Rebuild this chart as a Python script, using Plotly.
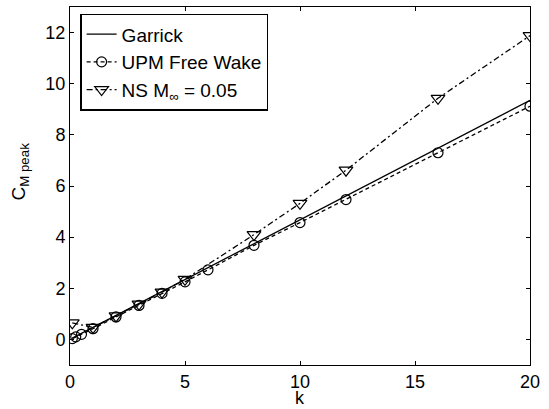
import plotly.graph_objects as go

# Data
k_garrick = [0.1, 0.25, 0.5, 1, 2, 3, 4, 5, 6, 8, 10, 12, 16, 20]
cm_garrick = [0.05, 0.12, 0.24, 0.47, 0.94, 1.4, 1.87, 2.34, 2.8, 3.74, 4.68, 5.6, 7.48, 9.35]

k_upm = [0.1, 0.25, 0.5, 1, 2, 3, 4, 5, 6, 8, 10, 12, 16, 20]
cm_upm = [0.03, 0.1, 0.2, 0.42, 0.88, 1.33, 1.8, 2.25, 2.72, 3.68, 4.57, 5.47, 7.3, 9.12]

k_ns = [0.1, 1, 2, 3, 4, 5, 8, 10, 12, 16, 20]
cm_ns = [0.65, 0.47, 0.92, 1.38, 1.85, 2.35, 4.1, 5.32, 6.62, 9.43, 11.88]

x_ticks = [0, 5, 10, 15, 20]
y_ticks = [0, 2, 4, 6, 8, 10, 12]

FONT = "Liberation Sans, Arial, sans-serif"

fig = go.Figure()
fig.add_trace(go.Scatter(
    x=k_garrick, y=cm_garrick, mode="lines", name="Garrick",
    line=dict(color="black", width=1.3, dash="solid"),
))
fig.add_trace(go.Scatter(
    x=k_upm, y=cm_upm, mode="lines+markers", name="UPM Free Wake",
    line=dict(color="black", width=1.3, dash="4px,3px"),
    marker=dict(symbol="circle-open", size=10, color="black", line=dict(width=1.2)),
))
fig.add_trace(go.Scatter(
    x=k_ns, y=cm_ns, mode="lines+markers", name="NS M<sub>∞</sub> = 0.05",
    line=dict(color="black", width=1.3, dash="6px,3px,2px,3px"),
    marker=dict(symbol="triangle-down-open", size=12, color="black", line=dict(width=1.2)),
))

axis_common = dict(
    showline=True, mirror="ticks", linecolor="black", linewidth=1,
    ticks="inside", ticklen=4, tickcolor="black",
    showgrid=False, zeroline=False, automargin=False,
    tickfont=dict(family=FONT, size=18, color="black"),
)

fig.update_layout(
    width=549, height=409,
    margin=dict(l=70, r=19, t=7, b=44, autoexpand=False),
    paper_bgcolor="white", plot_bgcolor="white",
    font=dict(family=FONT, size=18, color="black"),
    xaxis=dict(range=[0, 20], tickvals=x_ticks, **axis_common),
    yaxis=dict(range=[-1, 13], tickvals=y_ticks, **axis_common),
    legend=dict(
        x=0.022, y=0.981, xanchor="left", yanchor="top",
        bgcolor="white", bordercolor="black", borderwidth=1.5,
        font=dict(family=FONT, size=19, color="black"),
        tracegroupgap=0, itemwidth=30,
    ),
    showlegend=True,
    annotations=[
        dict(text="k", xref="paper", yref="paper", x=0.5, y=-0.093,
             xanchor="center", yanchor="middle", showarrow=False,
             font=dict(family=FONT, size=18, color="black")),
        dict(text="C<sub>M peak</sub>", xref="paper", yref="paper", x=-0.109, y=0.54,
             xanchor="center", yanchor="middle", showarrow=False, textangle=-90,
             font=dict(family=FONT, size=19, color="black")),
    ],
)

fig.write_html(
    "out.html",
    config={"displayModeBar": False},
    post_script="document.body.style.margin='0';document.body.style.overflow='hidden';",
)
